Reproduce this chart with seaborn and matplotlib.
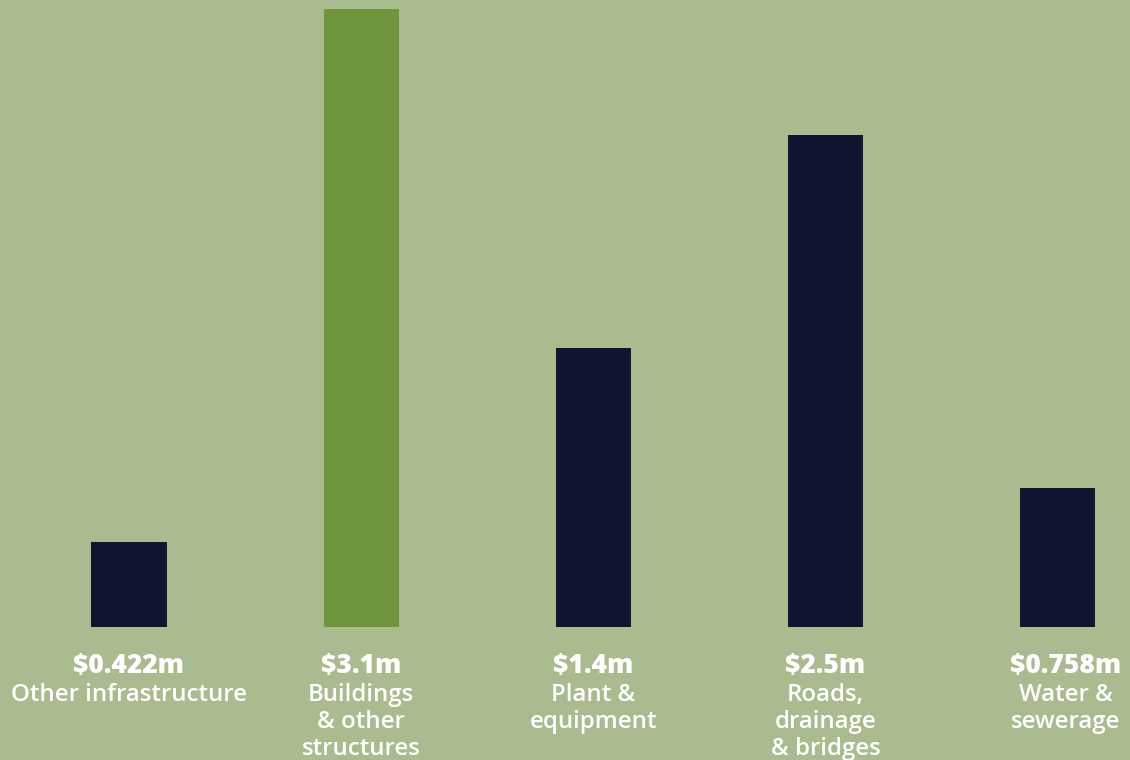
import matplotlib
matplotlib.use("Agg")
import matplotlib.pyplot as plt
import seaborn as sns
import matplotlib.transforms as mtransforms

categories = ["Other infrastructure", "Buildings\n& other\nstructures", "Plant &\nequipment",
              "Roads,\ndrainage\n& bridges", "Water &\nsewerage"]
values = [0.426, 3.1, 1.397, 2.468, 0.699]
value_labels = ["$0.422m", "$3.1m", "$1.4m", "$2.5m", "$0.758m"]
colors = ["#0f152e", "#70963d", "#0f152e", "#0f152e", "#0f152e"]

BG = "#aabb8f"
sns.set_theme(style="white")
plt.rcParams["font.family"] = ["Open Sans", "DejaVu Sans"]

fig = plt.figure(figsize=(11.3, 7.6), dpi=100, facecolor=BG)
ax = fig.add_axes([0, 1 - 627 / 760, 1, 627 / 760])
ax.set_facecolor(BG)

sns.barplot(x=list(range(len(values))), y=values, hue=list(range(len(values))),
            palette=colors, legend=False, width=0.323, ax=ax, saturation=1, edgecolor="none")

ax.set_xlim(-129 / 232.2, (1130 - 129) / 232.2)
ax.set_ylim(0, 627 / 199.5)
ax.axis("off")

trans = mtransforms.blended_transform_factory(ax.transData, fig.transFigure)
n = len(values)
for i, (vl, cat) in enumerate(zip(value_labels, categories)):
    # the last label group sits slightly right of its bar in the reference
    t = trans + mtransforms.ScaledTranslation(0.08 if i == n - 1 else 0, 0, fig.dpi_scale_trans)
    ax.text(i, 1 - 666 / 760, vl, transform=t, ha="center", va="center",
            color="white", fontsize=19, fontweight="heavy")
    ax.text(i, 1 - 683 / 760, cat, transform=t, ha="center", va="top",
            color="white", fontsize=17.3, linespacing=1.18, fontweight="semibold")

fig.savefig("out.png", dpi=100, facecolor=BG)
